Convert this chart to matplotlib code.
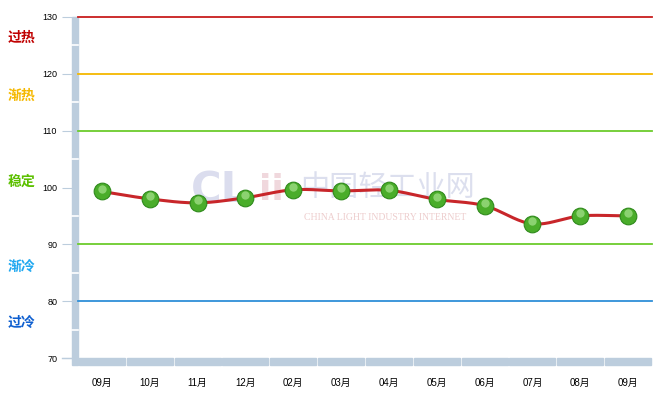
import numpy as np
import matplotlib
matplotlib.use('Agg')
import matplotlib.pyplot as plt
from matplotlib.patches import Rectangle
import matplotlib.transforms as mtransforms

plt.rcParams['font.family'] = ['Liberation Sans', 'Noto Sans CJK SC']

months = ['09月', '10月', '11月', '12月', '02月', '03月', '04月', '05月', '06月', '07月', '08月', '09月']
values = [99.3, 98.0, 97.3, 98.2, 99.6, 99.4, 99.5, 97.9, 96.8, 93.6, 95.0, 95.0]

levels = [130, 120, 110, 90, 80]
level_colors = ['#c81e1e', '#f5b800', '#6ccc2c', '#6ccc2c', '#2f8fd8']

zone_names = ['过热', '渐热', '稳定', '渐冷', '过冷']
zone_y = [126.3, 116.2, 101.0, 86.1, 76.1]
zone_colors = ['#c00000', '#f5b800', '#5cc000', '#20a8f0', '#1060d0']

BAR = '#bccddd'


def catmull_rom(x, y, n=20):
    # smooth curve through the points, for drawing only
    px = np.concatenate([[2 * x[0] - x[1]], x, [2 * x[-1] - x[-2]]])
    py = np.concatenate([[2 * y[0] - y[1]], y, [2 * y[-1] - y[-2]]])
    xs, ys = [], []
    t = np.linspace(0, 1, n, endpoint=False)
    for i in range(1, len(px) - 2):
        for p, out in ((px, xs), (py, ys)):
            p0, p1, p2, p3 = p[i - 1], p[i], p[i + 1], p[i + 2]
            out.extend(0.5 * (2 * p1 + (-p0 + p2) * t + (2 * p0 - 5 * p1 + 4 * p2 - p3) * t ** 2
                              + (-p0 + 3 * p1 - 3 * p2 + p3) * t ** 3))
    xs.append(x[-1])
    ys.append(y[-1])
    return np.array(xs), np.array(ys)


fig = plt.figure(figsize=(6.66, 4.03), dpi=100)
ax = fig.add_axes([78 / 666, 45 / 403, 574 / 666, 341 / 403])
ax.set_xlim(-0.5, len(months) - 0.5)
ax.set_ylim(70, 130)
for s in ax.spines.values():
    s.set_visible(False)

# reference lines
for lv, c in zip(levels, level_colors):
    ax.axhline(lv, color=c, lw=1.3, zorder=2, clip_on=False)

# axis bars
px = 1 / 574
py = 1 / 341
ax.add_patch(Rectangle((-6 * px, -7 * py), 6 * px, 1 + 7 * py, transform=ax.transAxes,
                       color=BAR, clip_on=False, zorder=1))
trans = mtransforms.blended_transform_factory(ax.transData, ax.transAxes)
for i in range(len(months)):
    ax.add_patch(Rectangle((i - 0.5 + 0.02, -7 * py), 0.96, 7 * py, transform=trans,
                           color=BAR, clip_on=False, zorder=1))
for v in [75, 85, 95, 105, 115, 125]:
    ax.plot([-6 * px, 0], [(v - 70) / 60] * 2, transform=ax.transAxes, color='white',
            lw=1.2, clip_on=False, zorder=1.5)
ax.plot([-16 * px, 0], [0, 0], transform=ax.transAxes, color=BAR, lw=1, clip_on=False)

# watermark
ax.text(2.45, 99.5, 'CL', fontsize=30, fontweight='bold', color='#8890c8', alpha=0.3,
        ha='center', va='center', family='DejaVu Sans', zorder=1)
ax.text(3.55, 99.5, 'ii', fontsize=26, fontweight='bold', color='#d08090', alpha=0.3,
        ha='center', va='center', family='DejaVu Sans', zorder=1)
ax.text(5.98, 100.0, '中国轻工业网', fontsize=21, color='#8e98c8', alpha=0.3,
        ha='center', va='center', family='Noto Sans CJK SC', zorder=1)
ax.text(5.92, 94.7, 'CHINA LIGHT INDUSTRY INTERNET', fontsize=7, color='#d89090', alpha=0.45,
        ha='center', va='center', family='Liberation Serif', zorder=1)

# line + points
x = np.arange(len(months), dtype=float)
cx, cy = catmull_rom(x, np.array(values))
ax.plot(cx, cy, color='#c8262a', lw=2.2, zorder=3, solid_capstyle='round')
ax.plot(x, values, 'o', ms=12, mfc='#4aad2a', mec='#2f8a1c', mew=0.8, zorder=4)
ax.plot(x, np.array(values) + 0.45, 'o', ms=6, mfc='#b8eca0', mec='none', alpha=0.6, zorder=5)

# ticks
ax.set_xticks(x)
ax.set_xticklabels(months, fontsize=7)
ax.tick_params(axis='x', length=0, pad=14.5)
ax.set_yticks(range(70, 131, 10))
ax.tick_params(axis='y', length=11.5, color=BAR, width=0.8, labelsize=6.5, pad=3.5)

for name, yv, c in zip(zone_names, zone_y, zone_colors):
    ax.text(-70 * px, (yv - 70) / 60, name, transform=ax.transAxes, fontsize=10,
            fontweight='bold', color=c, ha='left', va='center', family='Noto Sans CJK SC')

fig.savefig('out.png', dpi=100)
